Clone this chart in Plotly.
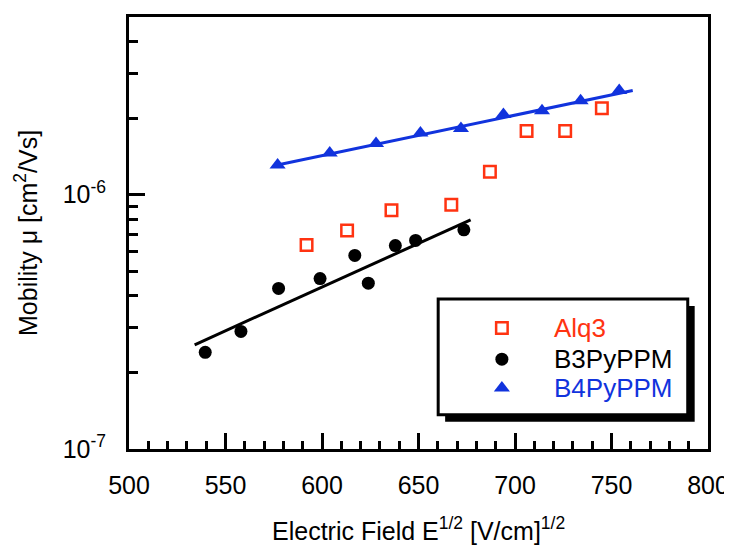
import plotly.graph_objects as go

# ---- data ----
alq3_x = [592, 613, 636, 667, 687, 706, 726, 745]
alq3_y = [6.34e-7, 7.24e-7, 8.69e-7, 9.13e-7, 1.23e-6, 1.78e-6, 1.78e-6, 2.19e-6]

b3_x = [539.5, 558, 577.5, 599, 617, 624, 638, 648.5, 673.5]
b3_y = [2.40e-7, 2.90e-7, 4.28e-7, 4.68e-7, 5.77e-7, 4.49e-7, 6.31e-7, 6.61e-7, 7.28e-7]

b4_x = [577, 604, 628, 651, 672, 694, 714, 734, 754]
b4_y = [1.31e-6, 1.46e-6, 1.59e-6, 1.75e-6, 1.82e-6, 2.07e-6, 2.14e-6, 2.34e-6, 2.57e-6]

b3_fit_x = [534, 677]
b3_fit_y = [2.57e-7, 7.97e-7]
b4_fit_x = [575, 761]
b4_fit_y = [1.30e-6, 2.57e-6]

series_names = ["Alq3", "B3PyPPM", "B4PyPPM"]
x_tick_vals = [500, 550, 600, 650, 700, 750, 800]
y_tick_vals = [1e-7, 1e-6]
y_tick_text = ["10<sup>-7</sup>", "10<sup>-6</sup>"]
y_minor_vals = [2e-7, 3e-7, 4e-7, 5e-7, 6e-7, 7e-7, 8e-7, 9e-7, 2e-6, 3e-6, 4e-6]
x_title = "Electric Field E<sup>1/2</sup> [V/cm]<sup>1/2</sup>"
y_title = "Mobility \u03bc [cm<sup>2</sup>/Vs]"

RED = "#ff3311"
BLUE = "#1133dd"
BLACK = "#000000"
FONT = "Liberation Sans"
FS = 25

fig = go.Figure()

fig.add_trace(go.Scatter(x=b3_fit_x, y=b3_fit_y, mode="lines",
                         line=dict(color=BLACK, width=3), showlegend=False))
fig.add_trace(go.Scatter(x=b4_fit_x, y=b4_fit_y, mode="lines",
                         line=dict(color=BLUE, width=3), showlegend=False))
fig.add_trace(go.Scatter(x=alq3_x, y=alq3_y, mode="markers", name=series_names[0],
                         marker=dict(symbol="square-open", size=11.5, color=RED,
                                     line=dict(color=RED, width=2.5)),
                         showlegend=False))
fig.add_trace(go.Scatter(x=b3_x, y=b3_y, mode="markers", name=series_names[1],
                         marker=dict(symbol="circle", size=13, color=BLACK),
                         showlegend=False))
fig.add_trace(go.Scatter(x=b4_x, y=b4_y, mode="markers", name=series_names[2],
                         marker=dict(symbol="triangle-up", size=14, color=BLUE),
                         showlegend=False))

# ---- manual legend (box with shadow) ----
leg_left, leg_right, leg_top, leg_bottom = 0.534, 0.965, 0.347, 0.079
fig.add_shape(type="rect", xref="x domain", yref="y domain",
              x0=leg_left + 0.012, x1=leg_right + 0.012,
              y0=leg_bottom - 0.016, y1=leg_top - 0.016,
              fillcolor=BLACK, line=dict(width=0), layer="below")
fig.add_shape(type="rect", xref="x domain", yref="y domain",
              x0=leg_left, x1=leg_right, y0=leg_bottom, y1=leg_top,
              fillcolor="white", line=dict(color=BLACK, width=3), layer="below")

leg_rows = [0.280, 0.208, 0.141]
leg_symbols = [dict(symbol="square-open", size=11.5, color=RED, line=dict(color=RED, width=2.5)),
               dict(symbol="circle", size=13, color=BLACK),
               dict(symbol="triangle-up", size=14, color=BLUE)]
leg_colors = [RED, BLACK, BLUE]
for name, yy, sym, col in zip(series_names, leg_rows, leg_symbols, leg_colors):
    fig.add_trace(go.Scatter(x=[0.644], y=[yy], mode="markers", marker=sym,
                             xaxis="x2", yaxis="y2", showlegend=False, hoverinfo="skip"))
    fig.add_annotation(xref="x domain", yref="y domain", x=0.730, y=yy,
                       xanchor="left", yanchor="middle", showarrow=False,
                       text=name, font=dict(family=FONT, size=26, color=col))

# ---- axis titles as annotations (precise placement) ----
fig.add_annotation(xref="x domain", yref="y domain", x=0.5, y=0,
                   xanchor="center", yanchor="middle", yshift=-80, showarrow=False,
                   text=x_title, font=dict(family=FONT, size=FS, color=BLACK))
fig.add_annotation(xref="x domain", yref="y domain", x=0, y=0.5,
                   xanchor="center", yanchor="middle", xshift=-103, showarrow=False,
                   textangle=-90,
                   text=y_title, font=dict(family=FONT, size=FS, color=BLACK))

axis_common = dict(showline=True, linewidth=3, linecolor=BLACK, mirror=True,
                   ticks="inside", tickwidth=2.5, tickcolor=BLACK, ticklen=16,
                   showgrid=False, zeroline=False, automargin=False,
                   tickfont=dict(family=FONT, size=FS, color=BLACK))

# the page body adds an 8px offset, so the figure is 8px smaller on each axis
fig.update_layout(
    width=724, height=537,
    margin=dict(l=121, r=24, t=9, b=96),
    paper_bgcolor="white", plot_bgcolor="white",
    font=dict(family=FONT, color=BLACK),
    xaxis=dict(range=[500, 800], tickmode="array", tickvals=x_tick_vals,
               minor=dict(dtick=10, ticks="inside", ticklen=8, tickwidth=2.5,
                          tickcolor=BLACK, showgrid=False),
               ticklabelstandoff=12,
               **axis_common),
    yaxis=dict(type="log", range=[-7, -5.30103], tickmode="array",
               tickvals=y_tick_vals, ticktext=y_tick_text,
               minor=dict(tickvals=y_minor_vals, ticks="inside", ticklen=9,
                          tickwidth=2.5, tickcolor=BLACK, showgrid=False),
               ticklabelstandoff=15,
               **axis_common),
    xaxis2=dict(overlaying="x", range=[0, 1], visible=False),
    yaxis2=dict(overlaying="y", range=[0, 1], visible=False),
)

fig.write_html("out.html")
